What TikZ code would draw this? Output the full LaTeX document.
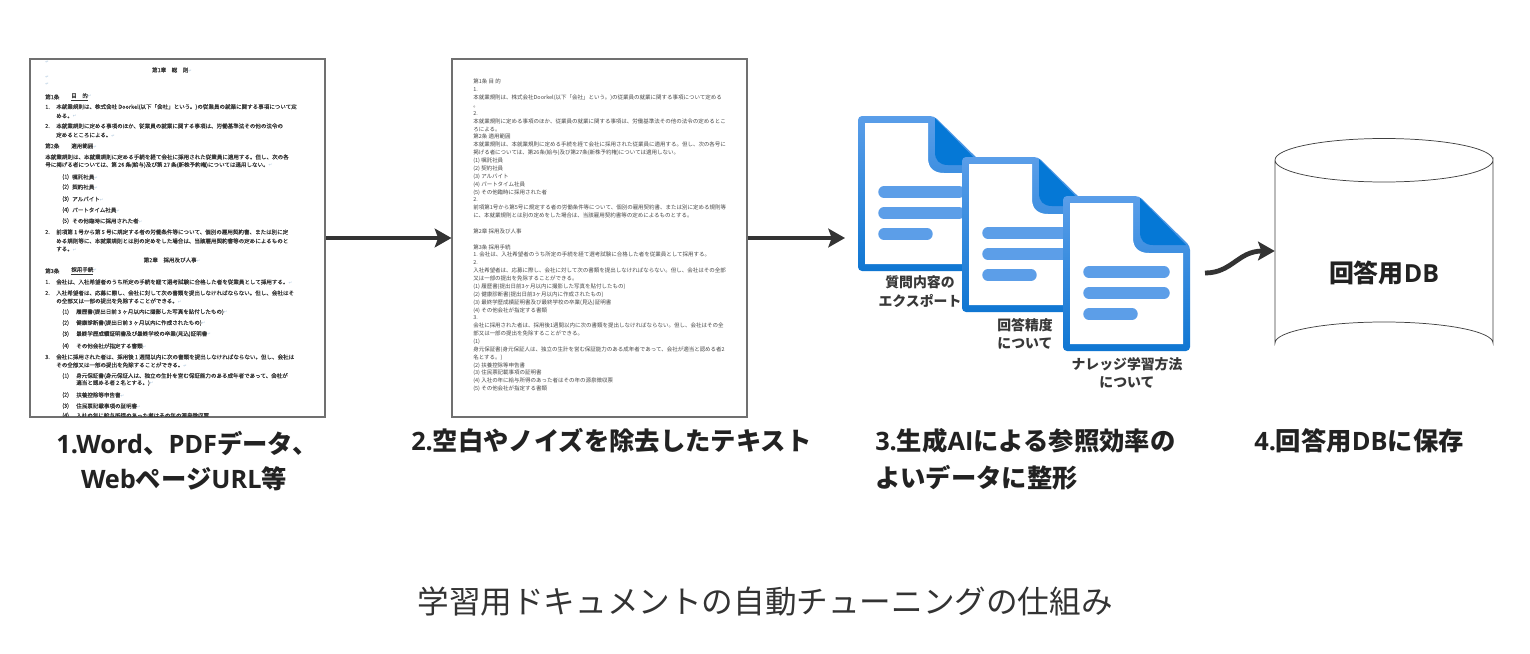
\documentclass[tikz,border=0pt]{standalone}
\usepackage{fontspec}
\usetikzlibrary{arrows.meta}
\setmainfont{Noto Sans CJK JP}
\newfontfamily\latn{Open Sans}
\newfontfamily\cjkdoc[FakeBold=0.12]{Noto Sans CJK JP}
\newfontfamily\symf{DejaVu Sans}
\definecolor{ink}{HTML}{222222}
\definecolor{arrowc}{HTML}{333333}
\definecolor{frame}{HTML}{707070}
\definecolor{icontop}{HTML}{5A9EE9}
\definecolor{iconbot}{HTML}{0F76D2}
\definecolor{folddark}{HTML}{0578D6}
\definecolor{iconbar}{HTML}{5C9EE8}
\definecolor{retc}{HTML}{A9C4DC}
\newcommand{\rt}{{\symf\textcolor{retc}{\fontsize{3.2}{4}\selectfont ↵}}}
\newcount\dlc
\newcommand{\dl}[3]{\global\advance\dlc by 1 \node[doctext] (dl\the\dlc) at (#1,#2) {#3};}
\newcommand{\dc}[3]{\global\advance\dlc by 1 \node[doctext,anchor=center] (dl\the\dlc) at (#1,#2) {#3};}
\tikzset{
  docbox/.style={draw=frame,line width=.8pt,fill=white,minimum width=221.25pt,minimum height=268.5pt,inner sep=0pt},
  doctext/.style={anchor=west,inner sep=0pt,text=black!78,font=\cjkdoc\fontsize{4.15}{5}\selectfont},
  doctwo/.style={anchor=north west,inner sep=0pt,align=left,text=black!72,font=\fontsize{4.12}{5.9}\selectfont},
  flow/.style={draw=arrowc,line width=3.6pt,-{Stealth[length=12.5pt,width=14pt,inset=2.5pt]}},
  heading/.style={inner sep=0pt,text=ink,font=\fontsize{19}{24}\selectfont\bfseries},
  iconlabel/.style={inner sep=0pt,align=center,text=ink!90,font=\fontsize{10.4}{14}\selectfont\bfseries},
  iconbarline/.style={line width=8.6pt,line cap=round,draw=iconbar},
  docicon/.pic={
    \shade[top color=icontop,bottom color=iconbot,rounded corners=3pt]
      (0,0) -- (76,0) -- (127,50) -- (127,155) -- (0,155) -- cycle;
    \fill[white] (7,7) -- (70,7) -- (70,42) .. controls (70,52) and (76,57) .. (86,57)
       -- (120,57) -- (120,148) -- (7,148) -- cycle;
    \fill[folddark] (77,2) -- (123,49) -- (90,49) .. controls (81,49) and (77,44) .. (77,36) -- cycle;
    \draw[iconbarline] (26,76) -- (101,76);
    \draw[iconbarline] (26,97) -- (101,97);
    \draw[iconbarline] (26,118) -- (69,118);
  }
}
\begin{document}
\begin{tikzpicture}[x=.75pt,y=-.75pt]
\useasboundingbox (0,0) rectangle (1530,653);
\fill[white] (0,0) rectangle (1530,653);

% documents
\node[docbox] (doc1) at (177.5,238) {};
\node[docbox] (doc2) at (599.5,238) {};

% document 1 text
\dl{45}{62}{\rt}
\dc{172}{70}{第1章　総　則\rt}
\dl{45}{77}{\rt}
\dl{45}{84}{\rt}
\dl{45}{97}{第1条}
\dl{71}{97}{\underline{目　的}\rt}
\dl{45}{107}{1.}
\dl{56}{107}{本就業規則は、株式会社 Doorkel(以下「会社」という。)の従業員の就業に関する事項について定}
\dl{56}{116}{める。\rt}
\dl{45}{126}{2.}
\dl{56}{126}{本就業規則に定める事項のほか、従業員の就業に関する事項は、労働基準法その他の法令の}
\dl{56}{135}{定めるところによる。\rt}
\dl{45}{146}{第2条}
\dl{71}{146}{適用範囲\rt}
\dl{45}{157}{本就業規則は、本就業規則に定める手続を経て会社に採用された従業員に適用する。但し、次の各}
\dl{45}{165}{号に掲げる者については、第 26 条(給与)及び第 27 条(新株予約権)については適用しない。\rt}
\dl{62}{177}{(1)}\dl{72}{177}{嘱託社員\rt}
\dl{62}{187}{(2)}\dl{72}{187}{契約社員\rt}
\dl{62}{199}{(3)}\dl{72}{199}{アルバイト\rt}
\dl{62}{210}{(4)}\dl{72}{210}{パートタイム社員\rt}
\dl{62}{221}{(5)}\dl{72}{221}{その他臨時に採用された者\rt}
\dl{45}{232}{2.}
\dl{56}{232}{前項第 1 号から第 5 号に規定する者の労働条件等について、個別の雇用契約書、または別に定}
\dl{56}{241}{める規則等に、本就業規則とは別の定めをした場合は、当該雇用契約書等の定めによるものと}
\dl{56}{249}{する。\rt}
\dc{172}{260}{第2章　採用及び人事\rt}
\dl{45}{271}{第3条}
\dl{71}{271}{\underline{採用手続}\rt}
\dl{45}{282}{1.}
\dl{56}{282}{会社は、入社希望者のうち所定の手続を経て選考試験に合格した者を従業員として採用する。\rt}
\dl{45}{293}{2.}
\dl{56}{293}{入社希望者は、応募に際し、会社に対して次の書類を提出しなければならない。但し、会社はそ}
\dl{56}{301}{の全部又は一部の提出を免除することができる。\rt}
\dl{62}{312}{(1)}\dl{76}{312}{履歴書(提出日前 3 ヶ月以内に撮影した写真を貼付したもの)\rt}
\dl{62}{323}{(2)}\dl{76}{323}{健康診断書(提出日前 3 ヶ月以内に作成されたもの)\rt}
\dl{62}{334}{(3)}\dl{76}{334}{最終学歴成績証明書及び最終学校の卒業(見込)証明書\rt}
\dl{62}{346}{(4)}\dl{76}{346}{その他会社が指定する書類\rt}
\dl{45}{357}{3.}
\dl{56}{357}{会社に採用された者は、採用後 1 週間以内に次の書類を提出しなければならない。但し、会社は}
\dl{56}{365}{その全部又は一部の提出を免除することができる。\rt}
\dl{62}{376}{(1)}\dl{76}{376}{身元保証書(身元保証人は、独立の生計を営む保証能力のある成年者であって、会社が}
\dl{76}{383}{適当と認める者 2 名とする。)\rt}
\dl{62}{395}{(2)}\dl{76}{395}{扶養控除等申告書\rt}
\dl{62}{406}{(3)}\dl{76}{406}{住民票記載事項の証明書\rt}
\begin{scope}
\clip (31,411) rectangle (324,416);
\dl{62}{415.5}{(4)}\dl{76}{415.5}{入社の年に給与所得のあった者はその年の源泉徴収票}
\end{scope}

% document 2 text
\node[doctwo] (doc2text) at (473,79) {第1条 目 的\\
1.\\
本就業規則は、株式会社Doorkel(以下「会社」という。)の従業員の就業に関する事項について定める\\
。\\
2.\\
本就業規則に定める事項のほか、従業員の就業に関する事項は、労働基準法その他の法令の定めるとこ\\
ろによる。\\
第2条 適用範囲\\
本就業規則は、本就業規則に定める手続を経て会社に採用された従業員に適用する。但し、次の各号に\\
掲げる者については、第26条(給与)及び第27条(新株予約権)については適用しない。\\
(1) 嘱託社員\\
(2) 契約社員\\
(3) アルバイト\\
(4) パートタイム社員\\
(5) その他臨時に採用された者\\
2.\\
前項第1号から第5号に規定する者の労働条件等について、個別の雇用契約書、または別に定める規則等\\
に、本就業規則とは別の定めをした場合は、当該雇用契約書等の定めによるものとする。\\
\mbox{}\\
第2章 採用及び人事\\
\mbox{}\\
第3条 採用手続\\
1. 会社は、入社希望者のうち所定の手続を経て選考試験に合格した者を従業員として採用する。\\
2.\\
入社希望者は、応募に際し、会社に対して次の書類を提出しなければならない。但し、会社はその全部\\
又は一部の提出を免除することができる。\\
(1) 履歴書(提出日前3ヶ月以内に撮影した写真を貼付したもの)\\
(2) 健康診断書(提出日前3ヶ月以内に作成されたもの)\\
(3) 最終学歴成績証明書及び最終学校の卒業(見込)証明書\\
(4) その他会社が指定する書類\\
3.\\
会社に採用された者は、採用後1週間以内に次の書類を提出しなければならない。但し、会社はその全\\
部又は一部の提出を免除することができる。\\
(1)\\
身元保証書(身元保証人は、独立の生計を営む保証能力のある成年者であって、会社が適当と認める者2\\
名とする。)\\
(2) 扶養控除等申告書\\
(3) 住民票記載事項の証明書\\
(4) 入社の年に給与所得のあった者はその年の源泉徴収票\\
(5) その他会社が指定する書類};

% icon labels (beneath the icons)
\node[iconlabel] (lab1) at (920,291.5) {質問内容の\\エクスポート};
\node[iconlabel] (lab2) at (1025,334) {回答精度\\について};
\node[iconlabel] (lab3) at (1127,373) {ナレッジ学習方法\\について};

% icons
\pic at (858,116) {docicon};
\pic at (962,157) {docicon};
\pic at (1063,196) {docicon};

% database
\node[minimum width=163.5pt,minimum height=169.5pt,inner sep=0pt] (db) at (1384,251) {};
\draw[draw=black!75,line width=.55pt]
  (1275,160) -- (1275,343) arc[start angle=180,end angle=360,x radius=109,y radius=21]
  -- (1493,160) arc[start angle=0,end angle=180,x radius=109,y radius=22]
  arc[start angle=180,end angle=360,x radius=109,y radius=21.5];
\node[inner sep=0pt,text=ink,font=\fontsize{18.7}{22}\selectfont\bfseries] (dblabel) at (1384,273) {回答用{\latn DB}};

% connectors
\coordinate (iconin) at (845,238);
\coordinate (iconout) at (1205,273);
\draw[flow] (doc1) -- (doc2);
\draw[flow] (doc2) -- (iconin);
\draw[flow] (iconout) .. controls (1232,273) and (1238,251) .. (db.west);

% headings
\node[heading] (h1a) at (187,443) {{\latn 1.Word}、{\latn PDF}データ、};
\node[heading] (h1b) at (184,479) {{\latn Web}ページ{\latn URL}等};
\node[heading,anchor=west] (h2) at (411,441) {{\latn 2.}空白やノイズを除去したテキスト};
\node[heading,anchor=west] (h3a) at (875,441) {{\latn 3.}生成{\latn AI}による参照効率の};
\node[heading,anchor=west] (h3b) at (875,478) {よいデータに整形};
\node[heading,anchor=west] (h4) at (1254,441) {{\latn 4.}回答用{\latn DB}に保存};
\node[inner sep=0pt,text=black!80,font=\fontsize{23.7}{30}\selectfont] (cap) at (765,601) {学習用ドキュメントの自動チューニングの仕組み};
\end{tikzpicture}
\end{document}
